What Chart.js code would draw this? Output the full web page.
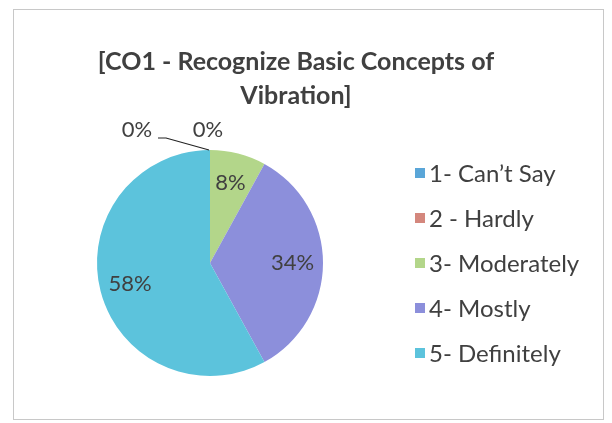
<!DOCTYPE html>
<html>
<head>
<meta charset="utf-8">
<script src="https://cdn.jsdelivr.net/npm/chart.js@4"></script>
<style>
  html, body { margin: 0; padding: 0; background: #fff; }
  #wrap { position: relative; width: 612px; height: 423px; }
  #frame { position: absolute; left: 13px; top: 9px; width: 591px; height: 411px;
           border: 1px solid #c8c8c8; box-sizing: border-box; }
  canvas { position: absolute; left: 0; top: 0; }
</style>
</head>
<body>
<div id="wrap">
  <div id="frame"></div>
  <canvas id="pieChart" width="612" height="423"></canvas>
</div>
<script>
// Chart data
const titleLines = ['[CO1 - Recognize Basic Concepts of', 'Vibration]'];
const categories = ['1- Can\u2019t Say', '2 - Hardly', '3- Moderately', '4- Mostly', '5- Definitely'];
const percentages = [0, 0, 8, 34, 58];
const sliceColors = ['#5aa6d8', '#d4877d', '#b3d68a', '#8c8fdb', '#5cc3dc'];

const FONT = 'Lato, "Open Sans", sans-serif';
const TEXT = '#404040';

// Title, percentage labels and legend drawn after the pie
const decorPlugin = {
  id: 'decor',
  afterDraw(chart) {
    const ctx = chart.ctx;
    const meta = chart.getDatasetMeta(0);
    const arc0 = meta.data[0];
    const cx = arc0.x, cy = arc0.y, R = arc0.outerRadius;

    ctx.save();
    // title
    ctx.fillStyle = TEXT;
    ctx.font = 'bold 25px ' + FONT;
    ctx.textAlign = 'center';
    ctx.textBaseline = 'middle';
    ctx.fillText(titleLines[0], 296, 62);
    ctx.fillText(titleLines[1], 296, 96);

    // slice labels
    ctx.font = '22px ' + FONT;
    meta.data.forEach((arc, i) => {
      const v = percentages[i];
      const text = v + '%';
      if (v > 0) {
        const mid = (arc.startAngle + arc.endAngle) / 2;
        const r = R * 0.73;
        ctx.fillText(text, cx + Math.cos(mid) * r, cy + Math.sin(mid) * r);
      }
    });
    // zero slices sit on top of the pie, labelled outside
    const topY = cy - R;
    ctx.fillText(percentages[0] + '%', cx - 73, topY - 20);
    ctx.fillText(percentages[1] + '%', cx - 2, topY - 20);
    ctx.strokeStyle = '#222';
    ctx.lineWidth = 1.2;
    ctx.beginPath();
    ctx.moveTo(cx - 52, topY - 12);
    ctx.lineTo(cx - 44, topY - 12);
    ctx.lineTo(cx - 1, topY);
    ctx.stroke();

    // legend
    ctx.textAlign = 'left';
    ctx.font = '24px ' + FONT;
    categories.forEach((c, i) => {
      const y = 173 + i * 45;
      ctx.fillStyle = sliceColors[i];
      ctx.fillRect(415, y - 5, 10, 10);
      ctx.fillStyle = TEXT;
      ctx.fillText(c, 429, y + 1);
    });
    ctx.restore();
  }
};

new Chart(document.getElementById('pieChart'), {
  type: 'pie',
  data: {
    labels: categories,
    datasets: [{
      data: percentages,
      backgroundColor: sliceColors,
      borderWidth: 0
    }]
  },
  options: {
    responsive: false,
    animation: false,
    layout: { padding: { left: 97, right: 289, top: 150, bottom: 47 } },
    plugins: {
      legend: { display: false },
      title: { display: false },
      tooltip: { enabled: false }
    }
  },
  plugins: [decorPlugin]
});
</script>
</body>
</html>
